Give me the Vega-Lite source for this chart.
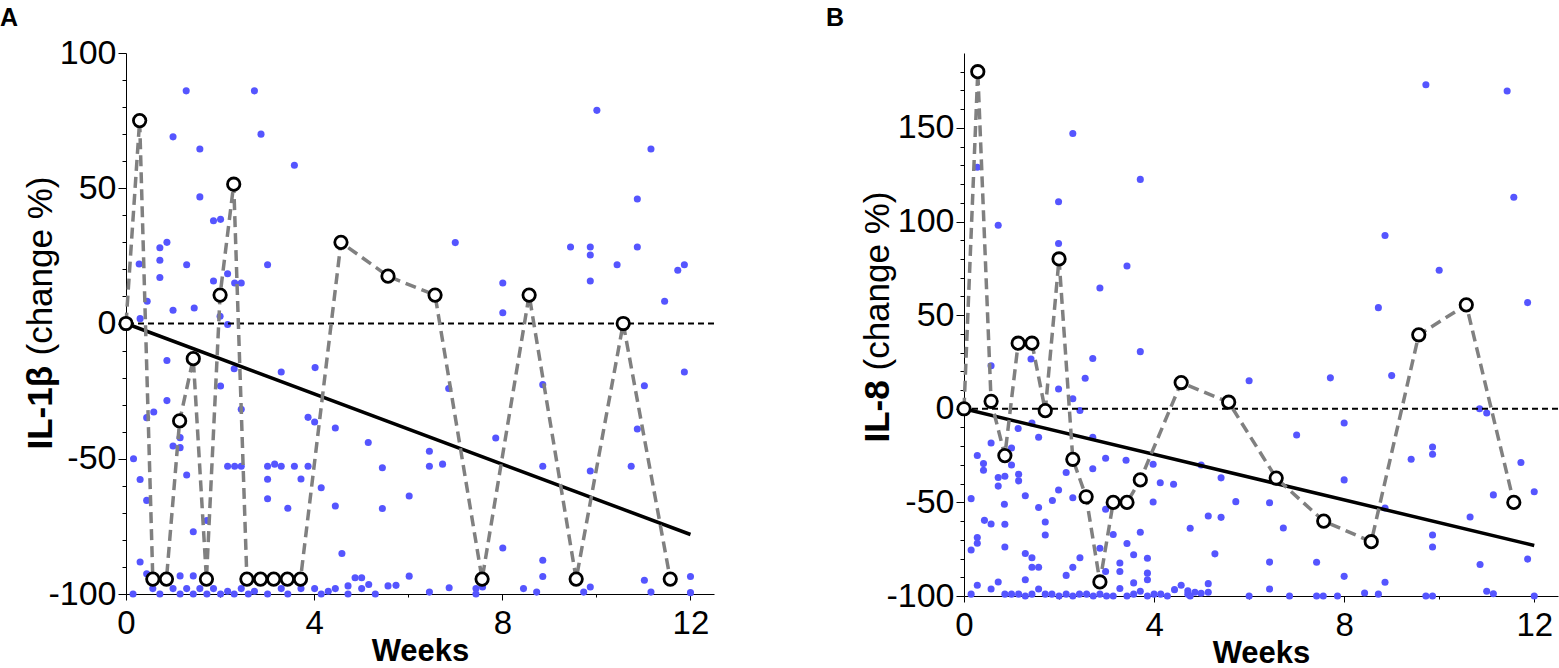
{
  "$schema": "https://vega.github.io/schema/vega-lite/v6.json",
  "background": "white",
  "padding": {"left": 0, "top": 6, "right": 0, "bottom": 0},
  "spacing": 111,
  "config": {"view": {"stroke": null}, "font": "Liberation Sans"},
  "datasets": {
    "ptsA": [
      {"w":1.28,"v":86},{"w":2.73,"v":86},{"w":1.0,"v":69},{"w":2.87,"v":70},{"w":1.57,"v":64.5},{"w":3.58,"v":58.5},{"w":1.57,"v":46.8},{"w":1.86,"v":38},{"w":2.01,"v":38.5},{"w":0.72,"v":28},{"w":0.87,"v":30},{"w":0.28,"v":22},{"w":0.72,"v":23.4},{"w":1.29,"v":21.7},{"w":3.01,"v":21.7},{"w":0.72,"v":17},{"w":1.86,"v":15.7},{"w":2.16,"v":18.4},{"w":2.31,"v":15},{"w":2.45,"v":15},{"w":0.45,"v":8.2},{"w":1.0,"v":4.9},{"w":1.45,"v":5.7},{"w":2.0,"v":2.7},{"w":0.3,"v":1.8},{"w":2.16,"v":-0.4},
      {"w":10.01,"v":78.8},{"w":11.16,"v":64.5},{"w":10.87,"v":46},{"w":7.0,"v":29.9},{"w":9.45,"v":28.3},{"w":9.87,"v":28.3},{"w":9.87,"v":25.3},{"w":10.87,"v":28.3},{"w":10.44,"v":21.7},{"w":11.73,"v":19.7},{"w":11.87,"v":21.7},{"w":9.87,"v":15.7},{"w":8.01,"v":15},{"w":11.45,"v":8.2},{"w":8.01,"v":4},
      {"w":11.87,"v":-17.9},{"w":11.02,"v":-23},{"w":8.86,"v":-22.6},{"w":6.86,"v":-24},{"w":10.87,"v":-39},{"w":7.86,"v":-42.3},{"w":6.45,"v":-47.2},{"w":6.45,"v":-52.8},{"w":6.73,"v":-52},{"w":8.86,"v":-52.8},{"w":9.87,"v":-54.5},{"w":10.74,"v":-52.8},{"w":5.45,"v":-53.3},{"w":6.02,"v":-63.8},{"w":5.45,"v":-68.4},{"w":8.01,"v":-83},{"w":8.86,"v":-87.5},{"w":8.86,"v":-93.5},{"w":6.02,"v":-93.4},{"w":5.74,"v":-96.8},{"w":6.87,"v":-97.7},{"w":6.45,"v":-99.3},{"w":7.44,"v":-98},{"w":7.44,"v":-100},{"w":7.58,"v":-97.4},{"w":8.45,"v":-98},{"w":8.73,"v":-99.3},{"w":9.73,"v":-99.3},{"w":9.87,"v":-97.4},{"w":11.02,"v":-94.9},{"w":11.16,"v":-99.3},{"w":12.0,"v":-93.5},{"w":12.0,"v":-99.5},
      {"w":0.87,"v":-13.7},{"w":2.3,"v":-16.7},{"w":3.3,"v":-17.9},{"w":4.02,"v":-16.3},{"w":2.01,"v":-23.1},{"w":0.87,"v":-28.5},{"w":2.45,"v":-31.7},{"w":0.59,"v":-32.7},{"w":0.44,"v":-34.8},{"w":3.87,"v":-34.7},{"w":4.01,"v":-36.4},{"w":4.45,"v":-38.6},{"w":1.15,"v":-42.2},{"w":1.0,"v":-45.3},{"w":1.15,"v":-45.9},{"w":5.15,"v":-44},{"w":0.16,"v":-50},{"w":2.16,"v":-52.8},{"w":2.31,"v":-52.8},{"w":2.45,"v":-52.8},{"w":3.01,"v":-52.8},{"w":3.16,"v":-52},{"w":3.3,"v":-52.8},{"w":3.58,"v":-52.8},{"w":3.87,"v":-52.8},{"w":0.3,"v":-57.7},{"w":3.01,"v":-57.6},{"w":3.72,"v":-57.5},{"w":1.29,"v":-56},{"w":4.15,"v":-60.7},{"w":0.44,"v":-65.4},{"w":3.01,"v":-64.8},{"w":4.45,"v":-67.5},{"w":3.44,"v":-68.3},{"w":1.72,"v":-72.8},{"w":1.43,"v":-77},{"w":4.59,"v":-85},{"w":0.3,"v":-88.2},{"w":1.15,"v":-93.3},{"w":1.43,"v":-93.3},{"w":0.44,"v":-92.5},{"w":4.87,"v":-94},{"w":5.01,"v":-94},{"w":4.72,"v":-97},{"w":5.16,"v":-96.5},{"w":5.01,"v":-98},{"w":5.3,"v":-100},{"w":5.57,"v":-97},
      {"w":0.15,"v":-100},{"w":0.57,"v":-98},{"w":0.72,"v":-100},{"w":1.0,"v":-98},{"w":1.15,"v":-100},{"w":1.29,"v":-98},{"w":1.43,"v":-100},{"w":1.57,"v":-98},{"w":1.72,"v":-100},{"w":1.86,"v":-98},{"w":2.01,"v":-100},{"w":2.16,"v":-99},{"w":2.3,"v":-100},{"w":2.45,"v":-98},{"w":2.6,"v":-100},{"w":2.73,"v":-99},{"w":3.01,"v":-100},{"w":3.3,"v":-98},{"w":3.44,"v":-100},{"w":3.72,"v":-98},{"w":4.01,"v":-98},{"w":4.15,"v":-100},{"w":4.3,"v":-99},{"w":4.45,"v":-98},{"w":4.72,"v":-100}
    ],
    "medA": [
      {"w":0,"v":0},{"w":0.29,"v":75},{"w":0.57,"v":-94.5},{"w":0.86,"v":-94.5},{"w":1.14,"v":-36},{"w":1.43,"v":-13},{"w":1.71,"v":-94.5},{"w":2.0,"v":10.5},{"w":2.29,"v":51.5},{"w":2.57,"v":-94.5},{"w":2.86,"v":-94.5},{"w":3.14,"v":-94.5},{"w":3.43,"v":-94.5},{"w":3.71,"v":-94.5},{"w":4.57,"v":30},{"w":5.57,"v":17.5},{"w":6.57,"v":10.5},{"w":7.57,"v":-94.5},{"w":8.57,"v":10.5},{"w":9.57,"v":-94.5},{"w":10.57,"v":0},{"w":11.57,"v":-94.5}
    ],
    "regA": [{"w":0,"v":0},{"w":12,"v":-78}],
    "ptsB": [
      {"w":2.29,"v":147},{"w":3.71,"v":122.5},{"w":0.28,"v":129},{"w":0.72,"v":98},{"w":1.99,"v":110.6},{"w":1.99,"v":88.3},{"w":3.43,"v":76.2},{"w":2.86,"v":64.5},
      {"w":9.72,"v":173},{"w":11.43,"v":169.7},{"w":11.57,"v":113},{"w":8.86,"v":92.5},{"w":10.0,"v":74},{"w":8.72,"v":54},{"w":11.86,"v":56.7},
      {"w":3.71,"v":30.5},{"w":2.71,"v":26.8},{"w":1.41,"v":26.6},{"w":0.57,"v":23},{"w":2.55,"v":16.3},{"w":1.99,"v":10.6},{"w":2.29,"v":5.3},{"w":2.44,"v":-0.9},{"w":1.43,"v":-7.6},{"w":1.14,"v":-10.5},{"w":1.57,"v":-15.2},{"w":2.71,"v":-15.2},{"w":0.57,"v":-18.3},{"w":1.0,"v":-21},{"w":0.28,"v":-25},{"w":2.98,"v":-26.4},{"w":3.41,"v":-27.5},{"w":3.98,"v":-29.6},{"w":0.41,"v":-29.3},{"w":0.41,"v":-32.8},{"w":1.0,"v":-30},{"w":1.15,"v":-35},{"w":1.15,"v":-38.5},{"w":0.72,"v":-36.7},{"w":0.86,"v":-36},{"w":0.72,"v":-41.3},{"w":2.15,"v":-34},{"w":2.71,"v":-32},{"w":4.13,"v":-39.5},{"w":4.41,"v":-40.3},{"w":1.29,"v":-46.5},{"w":1.86,"v":-49},{"w":1.99,"v":-43.4},{"w":2.29,"v":-47.5},{"w":0.15,"v":-48},{"w":0.85,"v":-51},{"w":1.57,"v":-52.7},{"w":2.98,"v":-53.7},{"w":3.98,"v":-49.8},{"w":0.43,"v":-59.6},{"w":0.57,"v":-61.5},{"w":0.86,"v":-61.7},{"w":1.71,"v":-60.5},{"w":1.71,"v":-67.4},{"w":3.14,"v":-67.2},{"w":3.71,"v":-66},{"w":0.28,"v":-68.8},{"w":0.28,"v":-71.8},{"w":0.15,"v":-75.4},{"w":0.86,"v":-73.8},{"w":2.86,"v":-74.5},{"w":3.43,"v":-72},{"w":1.29,"v":-77.3},{"w":1.43,"v":-79.6},{"w":1.43,"v":-84.6},{"w":1.57,"v":-84.6},{"w":2.44,"v":-79.6},{"w":3.57,"v":-78},{"w":3.86,"v":-79.8},{"w":2.29,"v":-84.7},{"w":3.28,"v":-82.4},{"w":2.15,"v":-89},{"w":2.98,"v":-86.9},{"w":3.28,"v":-86.9},{"w":3.86,"v":-87.8},{"w":3.86,"v":-91.3},{"w":1.29,"v":-91.3},{"w":0.72,"v":-92.5},{"w":0.28,"v":-94.3},{"w":0.57,"v":-96.3},{"w":1.57,"v":-96.3},{"w":3.57,"v":-93},{"w":3.28,"v":-96},{"w":3.71,"v":-97.5},{"w":4.43,"v":-96.6},{"w":4.57,"v":-94.3},{"w":4.71,"v":-97.2},
      {"w":0.15,"v":-99},{"w":0.86,"v":-99},{"w":1.0,"v":-99},{"w":1.15,"v":-99},{"w":1.29,"v":-100},{"w":1.43,"v":-99},{"w":1.71,"v":-99},{"w":1.85,"v":-99},{"w":2.0,"v":-100},{"w":2.15,"v":-99},{"w":2.29,"v":-100},{"w":2.43,"v":-99},{"w":2.58,"v":-99},{"w":2.72,"v":-100},{"w":2.86,"v":-99},{"w":3.0,"v":-100},{"w":3.14,"v":-100},{"w":3.43,"v":-100},{"w":3.57,"v":-99},{"w":3.86,"v":-100},{"w":4.0,"v":-99},{"w":4.14,"v":-99},{"w":4.28,"v":-100},{"w":4.71,"v":-99},
      {"w":6.0,"v":15},{"w":7.71,"v":16.5},{"w":9.0,"v":17.7},{"w":10.85,"v":0},{"w":11.0,"v":-2.3},{"w":8.0,"v":-7.6},{"w":7.0,"v":-14},{"w":9.86,"v":-20.4},{"w":9.86,"v":-24.3},{"w":9.41,"v":-27},{"w":11.72,"v":-28.7},{"w":4.99,"v":-30},{"w":5.41,"v":-36.9},{"w":8.0,"v":-38},{"w":11.14,"v":-46},{"w":12.0,"v":-44.3},{"w":5.72,"v":-49.6},{"w":6.43,"v":-50.2},{"w":8.86,"v":-53},{"w":5.14,"v":-57.3},{"w":5.41,"v":-58},{"w":10.65,"v":-57.8},{"w":4.76,"v":-63.8},{"w":6.72,"v":-63.7},{"w":9.86,"v":-67.4},{"w":9.86,"v":-73.8},{"w":5.28,"v":-77.5},{"w":10.86,"v":-83.2},{"w":11.86,"v":-80.3},{"w":6.43,"v":-81.9},{"w":7.42,"v":-82},{"w":8.0,"v":-89.5},{"w":8.86,"v":-92.7},{"w":5.14,"v":-93.4},{"w":6.43,"v":-96.3},{"w":11.0,"v":-97.5},{"w":11.14,"v":-98.8},{"w":8.43,"v":-98.4},{"w":8.72,"v":-99},
      {"w":4.76,"v":-100},{"w":4.86,"v":-98},{"w":4.99,"v":-98.5},{"w":5.14,"v":-98},{"w":6.0,"v":-100},{"w":6.85,"v":-100},{"w":7.42,"v":-100},{"w":7.56,"v":-100},{"w":7.86,"v":-100},{"w":9.72,"v":-100},{"w":9.86,"v":-100},{"w":12.0,"v":-100}
    ],
    "medB": [
      {"w":0,"v":0},{"w":0.29,"v":180},{"w":0.57,"v":4},{"w":0.86,"v":-25},{"w":1.14,"v":35},{"w":1.43,"v":35},{"w":1.71,"v":-1},{"w":2.0,"v":80},{"w":2.29,"v":-27},{"w":2.57,"v":-47},{"w":2.86,"v":-92.5},{"w":3.14,"v":-50},{"w":3.43,"v":-50},{"w":3.71,"v":-38},{"w":4.57,"v":14},{"w":5.57,"v":3.5},{"w":6.57,"v":-37},{"w":7.57,"v":-60},{"w":8.57,"v":-71},{"w":9.57,"v":39.5},{"w":10.57,"v":55.5},{"w":11.57,"v":-50}
    ],
    "regB": [{"w":0,"v":0},{"w":12,"v":-73}]
  },
  "hconcat": [
    {
      "width": 588,
      "height": 541,
      "title": {"text": "A", "anchor": "start", "frame": "group", "dx": -126, "fontSize": 25, "fontWeight": "bold", "font": "Liberation Sans", "color": "black", "baseline": "alphabetic", "offset": -15},
      "resolve": {"axis": {"y": "independent"}},
      "layer": [
        {
          "data": {"name": "ptsA"},
          "mark": {"type": "circle", "color": "#5555ff", "opacity": 1, "size": 50},
          "encoding": {
            "x": {"field": "w", "type": "quantitative", "scale": {"domain": [0, 12.5], "nice": false, "zero": false},
              "axis": {"orient": "bottom", "values": [0,2,4,6,8,10,12], "labelExpr": "datum.value % 4 === 0 ? '' + datum.value : ''",
                "tickSize": {"condition": {"test": "datum.value % 4 === 0", "value": 6}, "value": 3},
                "labelFont": "Liberation Sans", "labelFontSize": 33, "labelColor": "black", "labelPadding": 7, "labelFlush": false, "labelOverlap": false,
                "domainColor": "black", "domainWidth": 1, "tickColor": "black", "tickWidth": 1, "grid": false,
                "title": "Weeks", "titleFont": "Liberation Sans", "titleFontSize": 31, "titleFontWeight": "bold", "titleColor": "black",
                "titleBaseline": "alphabetic", "titleAlign": "center", "titleX": 294, "titleY": 66}},
            "y": {"field": "v", "type": "quantitative", "scale": {"domain": [-100, 100], "nice": false, "zero": false},
              "axis": {"orient": "left", "values": [-100,-90,-80,-70,-60,-50,-40,-30,-20,-10,0,10,20,30,40,50,60,70,80,90,100],
                "labelExpr": "datum.value % 50 === 0 ? '' + datum.value : ''",
                "tickSize": {"condition": {"test": "datum.value % 50 === 0", "value": 8}, "value": 4},
                "labelFont": "Liberation Sans", "labelFontSize": 34, "labelColor": "black", "labelPadding": 2, "labelFlush": false, "labelOverlap": false,
                "domainColor": "black", "domainWidth": 1, "tickColor": "black", "tickWidth": 1, "grid": false,
                "title": "IL-1β", "titleFont": "Liberation Sans", "titleFontSize": 35, "titleFontWeight": "bold", "titleColor": "black",
                "titleAngle": -90, "titleAlign": "left", "titleBaseline": "alphabetic", "titleX": -75, "titleY": 396}}
          }
        },
        {
          "data": {"values": [{}]},
          "mark": {"type": "rule", "color": "black", "strokeWidth": 2, "strokeDash": [6, 4]},
          "encoding": {"y": {"datum": 0, "type": "quantitative", "scale": {"domain": [-100, 100], "nice": false, "zero": false}, "axis": null}}
        },
        {
          "data": {"name": "regA"},
          "mark": {"type": "line", "color": "black", "strokeWidth": 3.5},
          "encoding": {
            "x": {"field": "w", "type": "quantitative", "scale": {"domain": [0, 12.5], "nice": false, "zero": false}},
            "y": {"field": "v", "type": "quantitative", "scale": {"domain": [-100, 100], "nice": false, "zero": false}, "axis": null}
          }
        },
        {
          "data": {"name": "medA"},
          "mark": {"type": "line", "color": "#808080", "strokeWidth": 3.5, "strokeDash": [11, 6]},
          "encoding": {
            "x": {"field": "w", "type": "quantitative", "scale": {"domain": [0, 12.5], "nice": false, "zero": false}},
            "y": {"field": "v", "type": "quantitative", "scale": {"domain": [-100, 100], "nice": false, "zero": false},
              "axis": {"orient": "left", "labels": false, "ticks": false, "domain": false, "grid": false,
                "title": "(change %)", "titleFont": "Liberation Sans", "titleFontSize": 35, "titleFontWeight": "normal", "titleColor": "black",
                "titleAngle": -90, "titleAlign": "left", "titleBaseline": "alphabetic", "titleX": -75, "titleY": 302}}
          }
        },
        {
          "data": {"name": "medA"},
          "mark": {"type": "point", "shape": "circle", "filled": true, "fill": "white", "stroke": "black", "strokeWidth": 2.8, "size": 154, "opacity": 1},
          "encoding": {
            "x": {"field": "w", "type": "quantitative", "scale": {"domain": [0, 12.5], "nice": false, "zero": false}},
            "y": {"field": "v", "type": "quantitative", "scale": {"domain": [-100, 100], "nice": false, "zero": false}, "axis": null}
          }
        }
      ]
    },
    {
      "width": 594,
      "height": 543,
      "title": {"text": "B", "anchor": "start", "frame": "group", "dx": -138, "fontSize": 25, "fontWeight": "bold", "font": "Liberation Sans", "color": "black", "baseline": "alphabetic", "offset": 2},
      "resolve": {"axis": {"y": "independent"}},
      "layer": [
        {
          "data": {"name": "ptsB"},
          "mark": {"type": "circle", "color": "#5555ff", "opacity": 1, "size": 50},
          "encoding": {
            "x": {"field": "w", "type": "quantitative", "scale": {"domain": [0, 12.5], "nice": false, "zero": false},
              "axis": {"orient": "bottom", "values": [0,2,4,6,8,10,12], "labelExpr": "datum.value % 4 === 0 ? '' + datum.value : ''",
                "tickSize": {"condition": {"test": "datum.value % 4 === 0", "value": 6}, "value": 3},
                "labelFont": "Liberation Sans", "labelFontSize": 33, "labelColor": "black", "labelPadding": 7, "labelFlush": false, "labelOverlap": false,
                "domainColor": "black", "domainWidth": 1, "tickColor": "black", "tickWidth": 1, "grid": false,
                "title": "Weeks", "titleFont": "Liberation Sans", "titleFontSize": 31, "titleFontWeight": "bold", "titleColor": "black",
                "titleBaseline": "alphabetic", "titleAlign": "center", "titleX": 297, "titleY": 66}},
            "y": {"field": "v", "type": "quantitative", "scale": {"domain": [-100, 190], "nice": false, "zero": false},
              "axis": {"orient": "left", "values": [-100,-90,-80,-70,-60,-50,-40,-30,-20,-10,0,10,20,30,40,50,60,70,80,90,100,110,120,130,140,150,160,170,180],
                "labelExpr": "datum.value % 50 === 0 ? '' + datum.value : ''",
                "tickSize": {"condition": {"test": "datum.value % 50 === 0", "value": 8}, "value": 4},
                "labelFont": "Liberation Sans", "labelFontSize": 34, "labelColor": "black", "labelPadding": 2, "labelFlush": false, "labelOverlap": false,
                "domainColor": "black", "domainWidth": 1, "tickColor": "black", "tickWidth": 1, "grid": false,
                "title": "IL-8", "titleFont": "Liberation Sans", "titleFontSize": 35, "titleFontWeight": "bold", "titleColor": "black",
                "titleAngle": -90, "titleAlign": "left", "titleBaseline": "alphabetic", "titleX": -76, "titleY": 389}}
          }
        },
        {
          "data": {"values": [{}]},
          "mark": {"type": "rule", "color": "black", "strokeWidth": 2, "strokeDash": [6, 4]},
          "encoding": {"y": {"datum": 0, "type": "quantitative", "scale": {"domain": [-100, 190], "nice": false, "zero": false}, "axis": null}}
        },
        {
          "data": {"name": "regB"},
          "mark": {"type": "line", "color": "black", "strokeWidth": 3.5},
          "encoding": {
            "x": {"field": "w", "type": "quantitative", "scale": {"domain": [0, 12.5], "nice": false, "zero": false}},
            "y": {"field": "v", "type": "quantitative", "scale": {"domain": [-100, 190], "nice": false, "zero": false}, "axis": null}
          }
        },
        {
          "data": {"name": "medB"},
          "mark": {"type": "line", "color": "#808080", "strokeWidth": 3.5, "strokeDash": [11, 6]},
          "encoding": {
            "x": {"field": "w", "type": "quantitative", "scale": {"domain": [0, 12.5], "nice": false, "zero": false}},
            "y": {"field": "v", "type": "quantitative", "scale": {"domain": [-100, 190], "nice": false, "zero": false},
              "axis": {"orient": "left", "labels": false, "ticks": false, "domain": false, "grid": false,
                "title": "(change %)", "titleFont": "Liberation Sans", "titleFontSize": 35, "titleFontWeight": "normal", "titleColor": "black",
                "titleAngle": -90, "titleAlign": "left", "titleBaseline": "alphabetic", "titleX": -76, "titleY": 317}}
          }
        },
        {
          "data": {"name": "medB"},
          "mark": {"type": "point", "shape": "circle", "filled": true, "fill": "white", "stroke": "black", "strokeWidth": 2.8, "size": 154, "opacity": 1},
          "encoding": {
            "x": {"field": "w", "type": "quantitative", "scale": {"domain": [0, 12.5], "nice": false, "zero": false}},
            "y": {"field": "v", "type": "quantitative", "scale": {"domain": [-100, 190], "nice": false, "zero": false}, "axis": null}
          }
        }
      ]
    }
  ]
}
